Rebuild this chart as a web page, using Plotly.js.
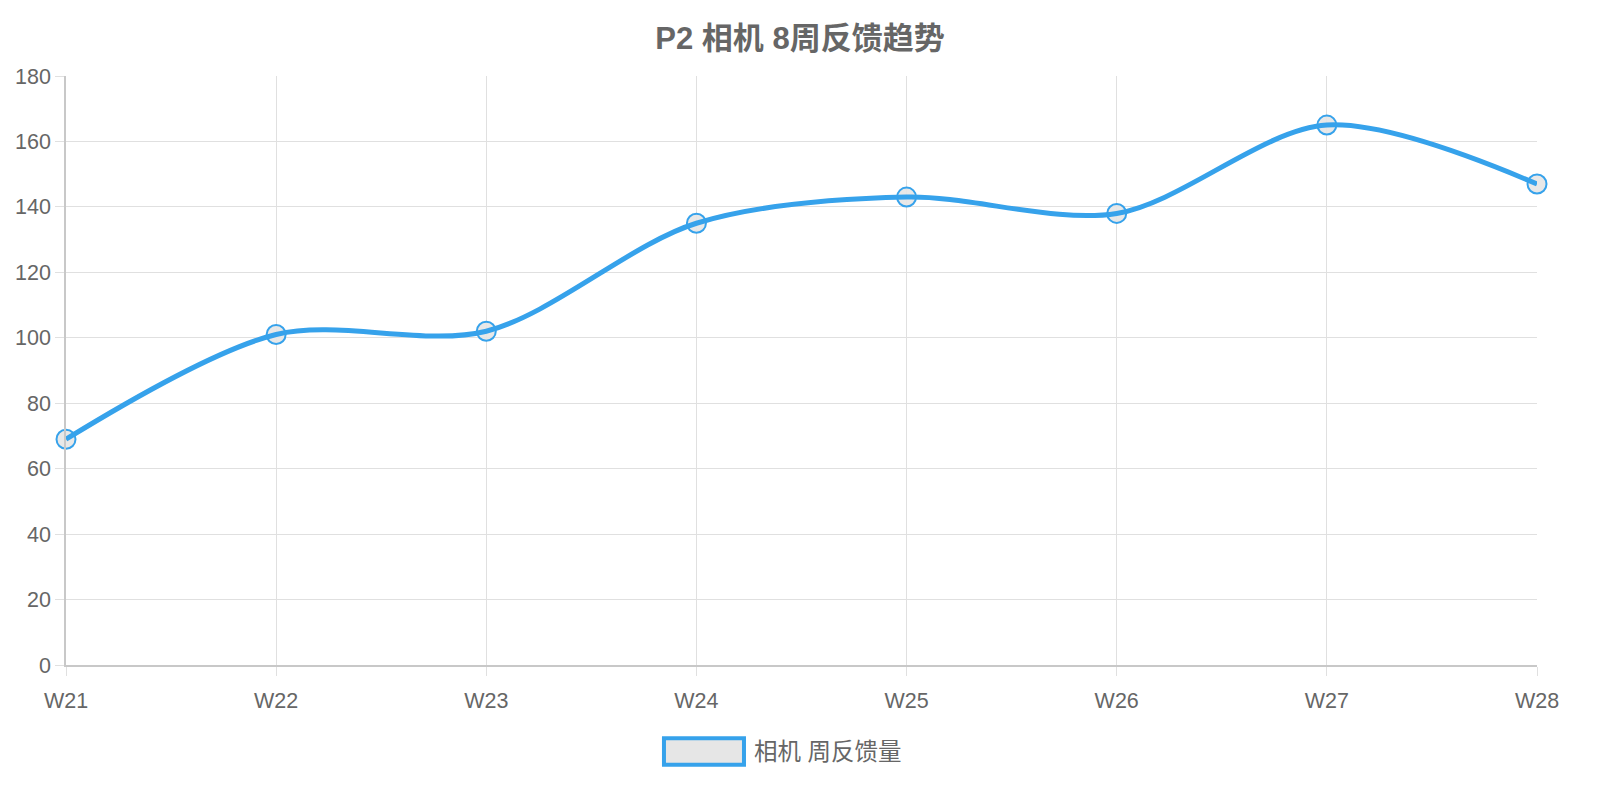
<!DOCTYPE html>
<html>
<head>
<meta charset="utf-8">
<script src="https://cdn.plot.ly/plotly-3.0.1.min.js"></script>
<style>
  html, body { margin: 0; padding: 0; background: #fff; }
  #chart { width: 1600px; height: 800px; }
</style>
</head>
<body>
<div id="chart"></div>
<script>
// weekly feedback counts
var weeks = ["W21", "W22", "W23", "W24", "W25", "W26", "W27", "W28"];
var counts = [69, 101, 102, 135, 143, 138, 165, 147];
var seriesName = "相机 周反馈量";
var chartTitle = "P2 相机 8周反馈趋势";

var blue = "#36A2EB";
var fontFamily = "'Liberation Sans', Arial, 'Noto Sans CJK SC', sans-serif";

// markers first so the line sits on top of them (like the original)
var data = [
    {
        type: "scatter",
        mode: "markers",
        x: weeks,
        y: counts,
        cliponaxis: false,
        marker: { size: 19, color: "rgba(230,230,230,0.9)", line: { color: blue, width: 2 } },
        showlegend: false,
        hoverinfo: "skip"
    },
    {
        type: "scatter",
        mode: "lines",
        x: weeks,
        y: counts,
        cliponaxis: false,
        name: seriesName,
        line: { color: blue, width: 5, shape: "spline", smoothing: 0.9 },
        showlegend: false
    }
];

var axisStyle = {
    showgrid: true,
    gridcolor: "#e0e0e0",
    gridwidth: 1,
    ticks: "outside",
    ticklen: 9,
    tickcolor: "#e0e0e0",
    showline: true,
    linecolor: "#c8c8c8",
    linewidth: 1.5,
    zeroline: false,
    tickfont: { family: fontFamily, size: 21.5, color: "#666" }
};

var layout = {
    width: 1600,
    height: 800,
    margin: { l: 66, r: 63, t: 76, b: 135 },
    paper_bgcolor: "#fff",
    plot_bgcolor: "#fff",
    title: {
        text: "<b>" + chartTitle + "</b>",
        font: { family: fontFamily, size: 31, color: "#666" },
        x: 0.5,
        xanchor: "center",
        y: 0.952,
        yanchor: "middle"
    },
    xaxis: Object.assign({}, axisStyle, {
        type: "category",
        range: [0, 7],
        ticklabelstandoff: 6
    }),
    yaxis: Object.assign({}, axisStyle, {
        range: [0, 180],
        dtick: 20
    }),
    // legend drawn by hand: Chart.js style box + label
    shapes: [
        {
            type: "rect",
            xref: "paper", yref: "paper",
            x0: 0.4065, x1: 0.4609, y0: -0.1243, y1: -0.1695,
            fillcolor: "#e6e6e6",
            line: { color: blue, width: 4 }
        }
    ],
    annotations: [
        {
            xref: "paper", yref: "paper",
            x: 0.4665, y: -0.147,
            xanchor: "left", yanchor: "middle",
            showarrow: false,
            text: seriesName,
            font: { family: fontFamily, size: 23.5, color: "#666" }
        }
    ],
    hovermode: "closest"
};

Plotly.newPlot("chart", data, layout, { displayModeBar: false, responsive: false });
</script>
</body>
</html>
